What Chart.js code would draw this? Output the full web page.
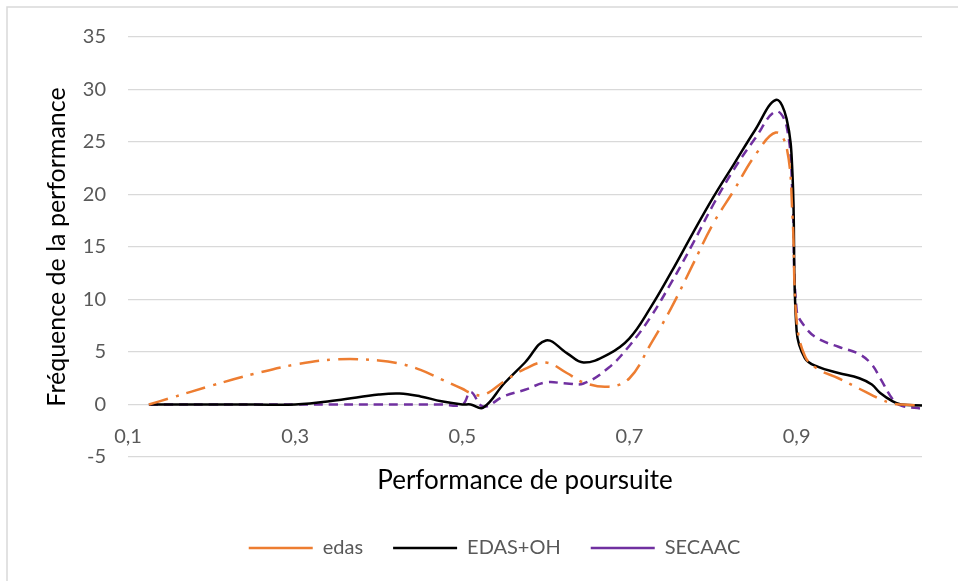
<!DOCTYPE html>
<html>
<head>
<meta charset="utf-8">
<script src="https://cdn.jsdelivr.net/npm/chart.js@4.4.0/dist/chart.umd.min.js"></script>
<style>
  html, body { margin: 0; padding: 0; background: #fff; }
  canvas { display: block; }
</style>
</head>
<body>
<canvas id="myChart" width="958" height="581"></canvas>
<script>
const ctx = document.getElementById('myChart').getContext('2d');

// valeurs
const perf = [0.125, 0.15, 0.2, 0.25, 0.3, 0.35, 0.4, 0.425, 0.45, 0.475, 0.5, 0.51, 0.525, 0.55, 0.575,
              0.6, 0.625, 0.645, 0.675, 0.7, 0.725, 0.75, 0.775, 0.8, 0.825, 0.85, 0.875, 0.888, 0.895,
              0.9, 0.91, 0.925, 0.95, 0.975, 0.99, 1.0, 1.015, 1.025, 1.05];
const edas = [0, 0.6, 1.8, 2.9, 3.8, 4.3, 4.2, 3.9, 3.3, 2.4, 1.5, 1.1, 0.9, 2.2, 3.4,
              4.0, 3.0, 2.1, 1.7, 2.5, 5.7, 9.2, 13.2, 17.2, 20.4, 23.7, 25.9, 24.5, 18,
              8, 4.6, 3.4, 2.5, 1.5, 0.9, 0.5, 0.1, 0, -0.1];
const edasOH = [0, 0, 0, 0, 0, 0.4, 0.95, 1.05, 0.77, 0.3, 0, 0, -0.3, 2.0, 4.0,
                6.1, 4.9, 4.0, 4.8, 6.3, 9.2, 12.6, 16.2, 19.7, 22.9, 26.1, 29.0, 27.2, 22,
                7, 4.4, 3.6, 3.0, 2.5, 1.9, 1.1, 0.3, 0, -0.1];
const secaac = [0, 0, 0, 0, 0, 0, 0, 0, 0, 0, 0, 1.2, -0.2, 0.8, 1.4,
                2.1, 2.0, 2.0, 3.5, 5.6, 8.3, 11.6, 15.2, 19.0, 22.4, 25.3, 27.9, 26.5, 20,
                9, 7.4, 6.3, 5.5, 4.8, 3.8, 2.5, 0.5, -0.1, -0.4];
const xTicks = [0.1, 0.3, 0.5, 0.7, 0.9];

function pts(ys) {
    return perf.map((x, i) => ({x: x, y: ys[i]}));
}

Chart.defaults.font.family = 'Lato';
Chart.defaults.color = '#595959';

// fond blanc + cadre gris
const cadre = {
    id: 'cadre',
    beforeDraw(chart) {
        const c = chart.ctx;
        c.save();
        c.fillStyle = '#fff';
        c.fillRect(0, 0, chart.width, chart.height);
        c.strokeStyle = '#d9d9d9';
        c.lineWidth = 1.5;
        c.strokeRect(7, 7, chart.width + 20, chart.height + 20);
        c.restore();
    }
};

const myChart = new Chart(ctx, {
    type: 'scatter',
    data: {
        datasets: [{
            label: 'edas',
            data: pts(edas),
            showLine: true,
            borderColor: '#ED7D31',
            backgroundColor: '#ED7D31',
            borderWidth: 2.5,
            borderDash: [20, 8, 3, 8],
            tension: 0.4,
            pointRadius: 0
        }, {
            label: 'EDAS+OH',
            data: pts(edasOH),
            showLine: true,
            borderColor: '#000000',
            backgroundColor: '#000000',
            borderWidth: 2.5,
            tension: 0.4,
            pointRadius: 0
        }, {
            label: 'SECAAC',
            data: pts(secaac),
            showLine: true,
            borderColor: '#7030A0',
            backgroundColor: '#7030A0',
            borderWidth: 2.5,
            borderDash: [9, 6],
            tension: 0.4,
            pointRadius: 0
        }]
    },
    options: {
        responsive: false,
        animation: false,
        devicePixelRatio: 1,
        layout: {
            padding: {left: 40, right: 9, top: 37, bottom: 13}
        },
        scales: {
            x: {
                type: 'linear',
                min: 0.1,
                max: 1.05,
                position: {y: 0},
                afterBuildTicks: axis => { axis.ticks = xTicks.map(v => ({value: v})); },
                ticks: {
                    padding: 20,
                    font: {size: 20},
                    color: '#595959',
                    callback: v => v.toFixed(1).replace('.', ',')
                },
                grid: {display: false, drawTicks: false},
                border: {display: false}
            },
            x2: {
                type: 'linear',
                min: 0.1,
                max: 1.05,
                position: 'bottom',
                ticks: {display: false},
                grid: {display: false, drawTicks: false},
                border: {display: false},
                title: {
                    display: true,
                    text: 'Performance de poursuite',
                    color: '#000',
                    font: {size: 26},
                    padding: {top: 4, bottom: 12}
                },
                afterFit: s => { s.height = 51; }
            },
            y: {
                min: -5,
                max: 35,
                ticks: {
                    stepSize: 5,
                    padding: 22,
                    font: {size: 20},
                    color: '#595959'
                },
                grid: {color: '#d9d9d9', lineWidth: 1.2, drawTicks: false},
                border: {display: false},
                title: {
                    display: true,
                    text: 'Fréquence de la performance',
                    color: '#000',
                    font: {size: 25},
                    padding: {top: 2, bottom: 0}
                },
                afterFit: s => { s.width = 88; }
            },
            y2: {
                position: 'right',
                ticks: {display: false},
                grid: {display: false, drawTicks: false},
                border: {display: false},
                afterFit: s => { s.width = 27; }
            }
        },
        plugins: {
            legend: {
                position: 'bottom',
                labels: {
                    usePointStyle: true,
                    pointStyle: 'line',
                    pointStyleWidth: 64,
                    padding: 30,
                    color: '#595959',
                    font: {size: 20}
                }
            },
            tooltip: {enabled: false}
        }
    },
    plugins: [cadre]
});
</script>
</body>
</html>
